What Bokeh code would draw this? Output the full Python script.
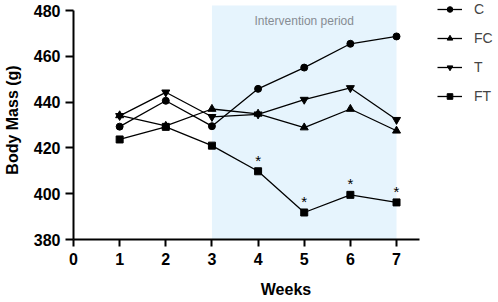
from bokeh.plotting import figure
from bokeh.models import (Range1d, FixedTicker, BoxAnnotation, Label, Legend, LegendItem, ColumnDataSource)
from bokeh.core.properties import value
from bokeh.embed import file_html
from bokeh.resources import INLINE

weeks = [1, 2, 3, 4, 5, 6, 7]
series_names = ["C", "FC", "T", "FT"]
C = [429.3, 440.6, 429.5, 445.8, 455.1, 465.5, 468.7]
FC = [434.2, 429.6, 437.0, 434.9, 428.9, 437.0, 427.5]
T = [434.0, 444.3, 433.6, 434.7, 441.1, 446.2, 432.3]
FT = [423.7, 429.2, 421.0, 409.8, 391.8, 399.5, 396.2]
sig_weeks = [4, 5, 6, 7]
sig_values = [409.8, 391.8, 399.5, 396.2]
sig_labels = ["*", "*", "*", "*"]
x_ticks = [0, 1, 2, 3, 4, 5, 6, 7]
y_ticks = [380, 400, 420, 440, 460, 480]
intervention = (3, 7)

FONT = "Liberation Sans"

p = figure(width=498, height=302, output_backend="svg", toolbar_location=None,
           x_range=Range1d(0, 9.21), y_range=Range1d(380, 484.4),
           min_border_left=73, min_border_right=0, min_border_top=0, min_border_bottom=63)
p.outline_line_color = None
p.grid.visible = False
p.background_fill_color = "white"

shade = BoxAnnotation(left=intervention[0], right=intervention[1], bottom=380, top=482.2,
                      fill_color="#e6f4fd", fill_alpha=1.0, line_color=None, level="underlay")
p.add_layout(shade)

p.add_layout(Label(x=5, y=475.3, text="Intervention period", text_align="center",
                   text_baseline="middle", text_font=FONT, text_font_size="12px",
                   text_color="#868c93"))

markers = {"C": ("circle", 7), "FC": ("triangle", 8), "T": ("inverted_triangle", 8), "FT": ("square", 7)}
data = {"C": C, "FC": FC, "T": T, "FT": FT}
items = []
for name in series_names:
    src = ColumnDataSource(dict(x=weeks, y=data[name]))
    l = p.line("x", "y", source=src, line_color="black", line_width=1.3)
    m, s = markers[name]
    sc = p.scatter("x", "y", source=src, marker=m, size=s, fill_color="black", line_color="black")
    items.append(LegendItem(label=name, renderers=[l, sc]))

p.text(x=sig_weeks, y=sig_values, text=sig_labels, text_font=value(FONT), text_font_size="15px",
       text_align="center", text_baseline="middle", y_offset=-11, text_color="black")

legend = Legend(items=items, location=(364, 135), glyph_width=25, glyph_height=14,
                label_height=14, label_standoff=12, spacing=13, padding=0, margin=0,
                border_line_color=None, background_fill_alpha=0,
                label_text_font=FONT, label_text_font_size="14px")
p.add_layout(legend, "center")

for ax in (p.xaxis[0], p.yaxis[0]):
    ax.axis_line_width = 2
    ax.axis_line_color = "black"
    ax.major_tick_line_width = 2
    ax.major_tick_line_color = "black"
    ax.minor_tick_line_color = None
    ax.major_tick_in = 0
    ax.major_label_text_font = FONT
    ax.major_label_text_font_style = "bold"
    ax.major_label_text_font_size = "16px"
    ax.major_label_text_color = "black"
    ax.axis_label_text_font = FONT
    ax.axis_label_text_font_style = "bold"
    ax.axis_label_text_font_size = "16px"
    ax.axis_label_text_color = "black"

p.xaxis[0].ticker = FixedTicker(ticks=x_ticks)
p.xaxis[0].bounds = (0, 7.5)
p.xaxis[0].major_tick_out = 7
p.xaxis[0].major_label_standoff = 6
p.xaxis[0].axis_label = "Weeks"
p.xaxis[0].axis_label_standoff = 13

p.yaxis[0].ticker = FixedTicker(ticks=y_ticks)
p.yaxis[0].bounds = (380, 480)
p.yaxis[0].major_tick_out = 8
p.yaxis[0].major_label_standoff = 5
p.yaxis[0].axis_label = "Body Mass (g)"
p.yaxis[0].axis_label_standoff = 10

open("out.html", "w").write(file_html(p, INLINE))
